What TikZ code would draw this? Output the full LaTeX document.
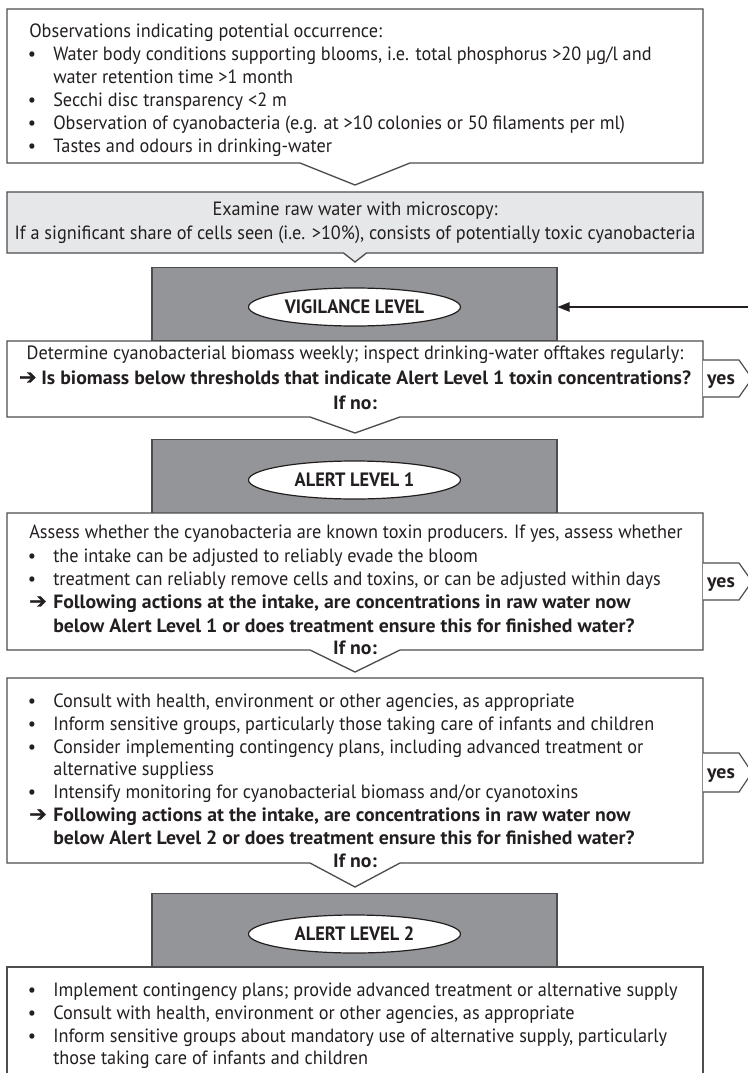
\documentclass[tikz,border=0pt]{standalone}
\usepackage{fontspec}
\setmainfont{PT Sans}[FakeStretch=0.95, BoldFeatures={FakeStretch=1.03}]
\newfontfamily\lvlfont{PT Sans}[FakeStretch=0.95]
\newfontfamily\symfont{DejaVu Sans}[FakeBold=1.5]
\usetikzlibrary{arrows.meta,shapes.geometric}
\definecolor{ink}{HTML}{231F20}
\definecolor{rule}{HTML}{4D4D4F}
\definecolor{barfill}{HTML}{939598}
\definecolor{panel}{HTML}{E6E7E8}
\newcommand\bodysize{\fontsize{14.4pt}{17.25pt}\selectfont}
\newcommand\leadarrow{{\fontsize{15.5pt}{17pt}\selectfont\symfont ➔}}
% one bulleted line: name, baseline, text
\newcommand\bline[3]{%
  \node[bulletmark] (#1b) at (32,#2) {•};
  \node[body] (#1) at (53,#2) {#3};}
% continuation line of a bullet
\newcommand\contline[3]{\node[body] (#1) at (53,#2) {#3};}
% bold question line led by an arrow
\newcommand\aline[3]{%
  \node[body] (#1a) at (29,#2) {\leadarrow};
  \node[strong] (#1) at (53,#2) {#3};}
\newcommand\qline[3]{\node[strong] (#1) at (53,#2) {#3};}
\begin{document}
\begin{tikzpicture}[x=0.75pt,y=-0.75pt,
  every node/.style={inner sep=0pt, text=ink},
  body/.style={font=\bodysize, anchor=base west},
  bodyc/.style={font=\bodysize, anchor=base},
  strong/.style={font=\bodysize\bfseries, anchor=base west},
  strongc/.style={font=\bodysize\bfseries, anchor=base},
  bulletmark/.style={font=\bodysize, anchor=base},
  boxline/.style={draw=rule, line width=1pt, line join=miter},
  levelbar/.style={rectangle, draw=rule, line width=0.8pt, fill=barfill,
    minimum width=303.75pt, minimum height=55pt},
  levelname/.style={ellipse, draw=ink, line width=0.9pt, fill=white,
    minimum width=159pt, minimum height=28.5pt,
    font=\fontsize{14.5pt}{16pt}\selectfont\lvlfont\bfseries},
  yestag/.style={draw=rule, line width=0.9pt, fill=white},
  feed/.style={draw=ink, line width=1.1pt, -{Triangle[length=9pt,width=7pt]}}
]
\path[use as bounding box] (0,0) rectangle (748,1073);
\clip (0,0) rectangle (748,1073);

% ---- observations
\draw[boxline, fill=white] (7,9) -- (703,9) -- (703,163) -- (410,163)
  -- (355,185) -- (300,163) -- (7,163) -- cycle;
\node[body] (obs) at (29,37.5) {Observations indicating potential occurrence:};
\bline{obsA}{60.5}{Water body conditions supporting blooms, i.e. total phosphorus >20 µg/l and}
\contline{obsAc}{83.5}{water retention time >1 month}
\bline{obsB}{106.5}{Secchi disc transparency <2 m}
\bline{obsC}{129.5}{Observation of cyanobacteria (e.g. at >10 colonies or 50 filaments per ml)}
\bline{obsD}{152.5}{Tastes and odours in drinking-water}

% ---- microscopy
\draw[boxline, fill=panel] (7,192) -- (703,192) -- (703,253) -- (366.5,253)
  -- (355,262) -- (343.5,253) -- (7,253) -- cycle;
\node[bodyc] (micA) at (355,216) {Examine raw water with microscopy:};
\node[bodyc] (micB) at (355,239) {If a significant share of cells seen (i.e. >10\%), consists of potentially toxic cyanobacteria};

% ---- vigilance level
\node[levelbar] (bar1) at (354.5,304) {};
\node[levelname] (ell1) at (354.5,307) {VIGILANCE LEVEL};
\coordinate (back) at (760,307);
\draw[feed] (back) -- (ell1 -| bar1.east);

\draw[boxline, fill=white] (7,341) -- (703,341) -- (703,417) -- (400,417)
  -- (355,433) -- (310,417) -- (7,417) -- cycle;
\node[bodyc] (vigA) at (355,359) {Determine cyanobacterial biomass weekly; inspect drinking-water offtakes regularly:};
\node[strongc] (vigB) at (355,384) {{\mdseries\leadarrow} Is biomass below thresholds that indicate Alert Level 1 toxin concentrations?};
\node[strongc] (vigC) at (355,409) {If no:};
\draw[yestag] (703,360) -- (739,360) -- (752,378.5) -- (739,397) -- (703,397);
\node[strongc] (yes1) at (721,384) {yes};

% ---- alert level 1
\node[levelbar] (bar2) at (354.5,476.5) {};
\node[levelname] (ell2) at (354.5,480) {ALERT LEVEL 1};

\draw[boxline, fill=white] (7,513) -- (703,513) -- (703,650) -- (400,650)
  -- (355,672) -- (310,650) -- (7,650) -- cycle;
\node[body] (alA) at (29,538) {Assess whether the cyanobacteria are known toxin producers. If yes, assess whether};
\bline{alB}{562}{the intake can be adjusted to reliably evade the bloom}
\bline{alC}{585}{treatment can reliably remove cells and toxins, or can be adjusted within days}
\aline{alD}{608}{Following actions at the intake, are concentrations in raw water now}
\qline{alE}{632}{below Alert Level 1 or does treatment ensure this for finished water?}
\node[strongc] (alF) at (355,654) {If no:};
\draw[yestag] (703,563) -- (739,563) -- (752,581.5) -- (739,600) -- (703,600);
\node[strongc] (yes2) at (721,587) {yes};

\draw[boxline, fill=white] (7,678) -- (703,678) -- (703,863) -- (400,863)
  -- (355,887) -- (310,863) -- (7,863) -- cycle;
\bline{coA}{707}{Consult with health, environment or other agencies, as appropriate}
\bline{coB}{730}{Inform sensitive groups, particularly those taking care of infants and children}
\bline{coC}{753}{Consider implementing contingency plans, including advanced treatment or}
\contline{coCc}{775}{alternative suppliess}
\bline{coD}{798}{Intensify monitoring for cyanobacterial biomass and/or cyanotoxins}
\aline{coE}{821}{Following actions at the intake, are concentrations in raw water now}
\qline{coF}{844}{below Alert Level 2 or does treatment ensure this for finished water?}
\node[strongc] (coG) at (355,867) {If no:};
\draw[yestag] (703,753) -- (739,753) -- (752,772.5) -- (739,792) -- (703,792);
\node[strongc] (yes3) at (721,778) {yes};

% ---- alert level 2
\node[levelbar] (bar3) at (354.5,930.5) {};
\node[levelname] (ell3) at (354.5,934) {ALERT LEVEL 2};

\draw[boxline, fill=white] (7,967) -- (703,967) -- (703,1090) -- (7,1090) -- cycle;
\bline{imA}{996}{Implement contingency plans; provide advanced treatment or alternative supply}
\bline{imB}{1019}{Consult with health, environment or other agencies, as appropriate}
\bline{imC}{1042}{Inform sensitive groups about mandatory use of alternative supply, particularly}
\contline{imCc}{1064}{those taking care of infants and children}
\end{tikzpicture}
\end{document}
